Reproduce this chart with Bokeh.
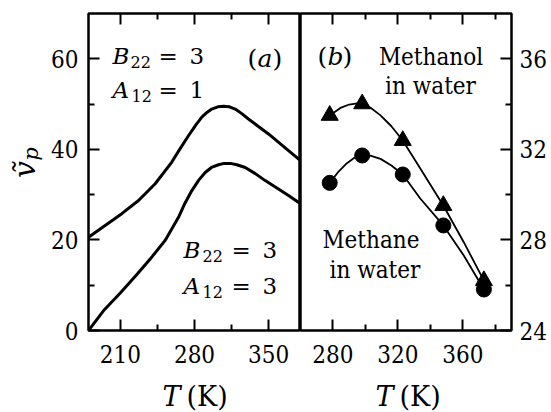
import math
from bokeh.plotting import figure
from bokeh.models import Range1d, LinearAxis, FixedTicker
from bokeh.layouts import row, column
from bokeh.core.properties import value
from bokeh.embed import file_html
from bokeh.resources import INLINE

# ---------------- data: panel (a) model curves ----------------
a_upper_T = [180, 195.7, 211.4, 227.2, 242.9, 258.6, 266, 274.3, 281, 286.9, 292, 296.3,
             302, 307.4, 313, 318.4, 324, 330.9, 340, 349.8, 368.7, 380]
a_upper_v = [20.6, 23.2, 25.8, 28.7, 32.4, 37.2, 40.0, 43.0, 45.3, 47.1, 48.2, 48.9,
             49.4, 49.5, 49.4, 48.9, 48.0, 46.7, 45.1, 43.4, 39.7, 37.5]
a_lower_T = [180, 195, 210, 225, 240, 252.3, 264.9, 271, 277.5, 284, 290.1, 296, 302.6,
             308, 313.7, 320, 327.8, 337, 346.7, 368.7, 380]
a_lower_v = [0.0, 4.6, 8.3, 12.2, 16.3, 19.9, 25.0, 28.1, 30.9, 33.2, 34.9, 36.0, 36.6,
             36.9, 36.9, 36.6, 36.0, 34.7, 33.1, 29.8, 28.0]

# ---------------- data: panel (b) ----------------
b_T = [278, 298, 323, 348, 373]
methanol_v = [33.50, 34.01, 32.39, 29.52, 26.20]
methane_v = [30.52, 31.73, 30.89, 28.64, 25.81]
methanol_curve_T = [278, 284.6, 290, 295, 298, 303, 309.3, 316, 323, 333.9, 348, 360.6, 373]
methanol_curve_v = [33.50, 33.83, 33.98, 34.03, 34.01, 33.85, 33.50, 33.02, 32.39, 31.14,
                    29.52, 27.90, 26.20]
methane_curve_T = [278, 283, 288, 293, 298, 303, 309.3, 316, 323, 333.9, 348, 360.6, 373]
methane_curve_v = [30.52, 30.98, 31.35, 31.62, 31.73, 31.72, 31.58, 31.29, 30.89, 29.82,
                   28.64, 27.31, 25.81]

# ticks
a_xticks, a_xminor = [210, 280, 350], [245, 315]
a_yticks, a_yminor = [0, 20, 40, 60], [10, 30, 50]
b_xticks, b_xminor = [280, 320, 360], [300, 340, 380]
b_yticks, b_yminor = [24, 28, 32, 36], [26, 30, 34]

TOP_H = 370
FONT = "DejaVu Serif"
FONT_C = "DejaVu Serif Condensed"


def style_axis(ax, labels=True, standoff=10):
    ax.axis_line_color = None
    ax.major_tick_in = 11
    ax.major_tick_out = 0
    ax.minor_tick_in = 6
    ax.minor_tick_out = 0
    ax.major_tick_line_width = 2
    ax.minor_tick_line_width = 2
    ax.major_tick_line_color = "black"
    ax.minor_tick_line_color = "black"
    if labels:
        ax.major_label_text_font = FONT_C
        ax.major_label_text_font_size = "24px"
        ax.major_label_text_color = "black"
        ax.major_label_standoff = standoff
    else:
        ax.major_label_text_color = None
        ax.major_label_text_font_size = "1px"
        ax.major_label_standoff = 0


def pieces(p, x, y, parts, font=FONT, angle=0.0, align="left"):
    for t, dx, dy, size, style in parts:
        p.text(x=[x], y=[y], text=[t], x_offset=dx, y_offset=dy, angle=angle,
               text_font=value(font), text_font_size=f"{size}px",
               text_font_style=style, text_color="black",
               text_baseline="middle", text_align=align)


def base_fig(width, xr, yr, **kw):
    p = figure(width=width, height=TOP_H, x_range=Range1d(*xr), y_range=Range1d(*yr),
               output_backend="svg", toolbar_location=None,
               min_border_top=13, min_border_bottom=40, **kw)
    p.outline_line_color = "black"
    p.outline_line_width = 2.5
    p.xgrid.visible = False
    p.ygrid.visible = False
    p.background_fill_color = "white"
    p.border_fill_color = "white"
    return p


def strip(width, height):
    s = figure(width=width, height=height, x_range=Range1d(0, width),
               y_range=Range1d(0, height), x_axis_type=None, y_axis_type=None,
               output_backend="svg", toolbar_location=None,
               min_border=0)
    s.outline_line_color = None
    s.xgrid.visible = False
    s.ygrid.visible = False
    s.background_fill_color = "white"
    s.border_fill_color = "white"
    return s


# ---------------- panel (a) ----------------
p1 = base_fig(255, (180, 380), (0, 70), min_border_left=43, min_border_right=0)
p1.xaxis.ticker = FixedTicker(ticks=a_xticks, minor_ticks=a_xminor)
p1.yaxis.ticker = FixedTicker(ticks=a_yticks, minor_ticks=a_yminor)
style_axis(p1.xaxis[0], True, 14)
style_axis(p1.yaxis[0], True, 10)
top1 = LinearAxis(ticker=FixedTicker(ticks=a_xticks, minor_ticks=a_xminor))
style_axis(top1, False)
p1.add_layout(top1, "above")

p1.line(a_upper_T, a_upper_v, line_color="black", line_width=3)
p1.line(a_lower_T, a_lower_v, line_color="black", line_width=3)

S, SUB, P = 23, 16, 25
pieces(p1, 202.6, 60.7, [("B", 0, 0, S, "italic"), ("22", 18, 6, SUB, "normal"),
                         ("=", 46, 0, S, "normal"), ("3", 77, 0, S, "normal")])
pieces(p1, 202.6, 53.0, [("A", 0, 0, S, "italic"), ("12", 19, 6, SUB, "normal"),
                         ("=", 46, 0, S, "normal"), ("1", 77, 0, S, "normal")])
pieces(p1, 330, 60.0, [("(", 0, 0, P, "normal"), ("a", 10, 0, P, "italic"),
                       (")", 25, 0, P, "normal")])
pieces(p1, 269.6, 17.7, [("B", 0, 0, S, "italic"), ("22", 19, 6, SUB, "normal"),
                         ("=", 48, 0, S, "normal"), ("3", 79, 0, S, "normal")])
pieces(p1, 269.6, 9.8, [("A", 0, 0, S, "italic"), ("12", 19, 6, SUB, "normal"),
                        ("=", 48, 0, S, "normal"), ("3", 79, 0, S, "normal")])

# ---------------- panel (b) ----------------
p2 = base_fig(251, (260, 390), (24, 38), min_border_left=0, min_border_right=40,
              y_axis_location="right")
p2.xaxis.ticker = FixedTicker(ticks=b_xticks, minor_ticks=b_xminor)
p2.yaxis.ticker = FixedTicker(ticks=b_yticks, minor_ticks=b_yminor)
style_axis(p2.xaxis[0], True, 14)
style_axis(p2.yaxis[0], True, 8)
top2 = LinearAxis(ticker=FixedTicker(ticks=b_xticks, minor_ticks=b_xminor))
style_axis(top2, False)
p2.add_layout(top2, "above")

p2.line(methanol_curve_T, methanol_curve_v, line_color="black", line_width=1.8)
p2.line(methane_curve_T, methane_curve_v, line_color="black", line_width=1.8)
p2.scatter(b_T, methanol_v, marker="triangle", size=17, fill_color="black",
           line_color="black")
p2.scatter(b_T, methane_v, marker="circle", size=15, fill_color="black",
           line_color="black")

pieces(p2, 270.5, 36.10, [("(", 0, 0, P, "normal"), ("b", 10, 0, P, "italic"),
                          (")", 25, 0, P, "normal")])
pieces(p2, 340.4, 36.10, [("Methanol", 0, 0, 24, "normal")], FONT_C, align="center")
pieces(p2, 340.1, 34.82, [("in water", 0, 0, 24, "normal")], FONT_C, align="center")
pieces(p2, 303.4, 27.98, [("Methane", 0, 0, 24, "normal")], FONT_C, align="center")
pieces(p2, 305.9, 26.69, [("in water", 0, 0, 24, "normal")], FONT_C, align="center")

# ---------------- axis-title strips ----------------
left = strip(45, TOP_H)
pieces(left, 24, 178, [("ṽ", 0, 0, 30, "italic")], angle=math.pi / 2)
pieces(left, 30, 198, [("p", 0, 0, 21, "italic")], angle=math.pi / 2)

bottom = strip(551, 412 - TOP_H)
pieces(bottom, 162, 16, [("T", 0, 0, 27, "italic"), ("(K)", 24, 0, 27, "normal")])
pieces(bottom, 375, 16, [("T", 0, 0, 27, "italic"), ("(K)", 24, 0, 27, "normal")])

layout = column(row(left, p1, p2, spacing=0), bottom, spacing=0)
open("out.html", "w").write(file_html(layout, INLINE))
